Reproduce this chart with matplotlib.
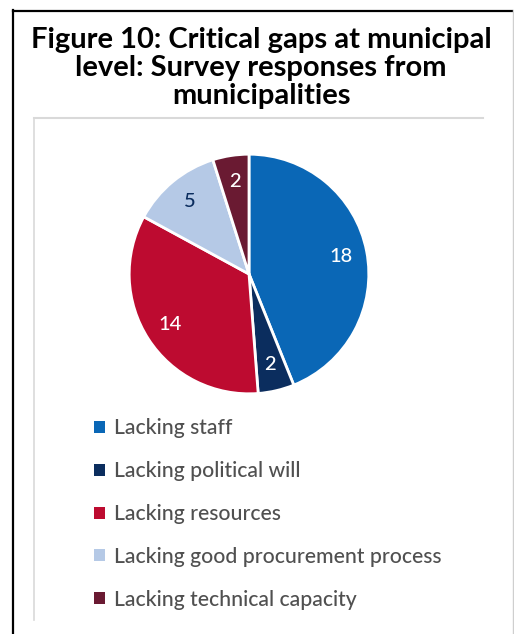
import matplotlib
matplotlib.use("Agg")
import matplotlib.pyplot as plt
from matplotlib.patches import Patch
from matplotlib.lines import Line2D

# data
categories = ["Lacking staff", "Lacking political will", "Lacking resources",
              "Lacking good procurement process", "Lacking technical capacity"]
responses = [18, 2, 14, 5, 2]
colors = ["#0a67b6", "#0b2d5e", "#bd0b30", "#b5c9e6", "#6a1a32"]
label_colors = ["white", "white", "white", "#0b2d5e", "white"]

title = "Figure 10: Critical gaps at municipal\nlevel: Survey responses from\nmunicipalities"

W, H = 514, 634
fig = plt.figure(figsize=(W / 100, H / 100), dpi=100)
fig.patch.set_facecolor("white")

def fx(px):
    return px / W

def fy(py):
    return 1 - py / H

# outer frame
fig.add_artist(Line2D([fx(13), fx(13)], [fy(10), fy(640)], color="black", lw=1.6))
fig.add_artist(Line2D([fx(13), fx(512)], [fy(10.5), fy(10.5)], color="black", lw=1.6))
fig.add_artist(Line2D([fx(512.5), fx(512.5)], [fy(10), fy(640)], color="#cfcfcf", lw=1))
# inner chart box
fig.add_artist(Line2D([fx(34), fx(483)], [fy(118), fy(118)], color="#d9d9d9", lw=1.5))
fig.add_artist(Line2D([fx(34), fx(34)], [fy(118), fy(620)], color="#d9d9d9", lw=1.2))

fig.text(fx(261), fy(68), title, ha="center", va="center", fontsize=21,
         fontweight="bold", family="Lato", linespacing=1.08, color="black")

# pie
ax = fig.add_axes([fx(128), fy(395), fx(242), 242 / H])
total = sum(responses)
wedges, texts, autotexts = ax.pie(
    responses, colors=colors, startangle=90, counterclock=False,
    autopct=lambda p: "%d" % round(p * total / 100), pctdistance=0.78,
    wedgeprops=dict(edgecolor="white", linewidth=2),
    textprops=dict(fontsize=14.5, family="Lato", fontweight="medium"))
for t, c in zip(autotexts, label_colors):
    t.set_color(c)
ax.set_xlim(-1.01, 1.01)
ax.set_ylim(-1.01, 1.01)
ax.set_aspect("equal")
ax.axis("off")

# legend
handles = [Patch(facecolor=c, edgecolor="none") for c in colors]
fig.legend(handles, categories, loc="upper left", bbox_to_anchor=(fx(86), fy(410)),
           frameon=False, prop=dict(family="Lato", size=15.2, weight="medium"),
           labelcolor="#505050", handlelength=0.5, handleheight=0.5,
           handletextpad=0.45, labelspacing=1.08, borderaxespad=0)

fig.savefig("out.png", dpi=100, facecolor="white")
